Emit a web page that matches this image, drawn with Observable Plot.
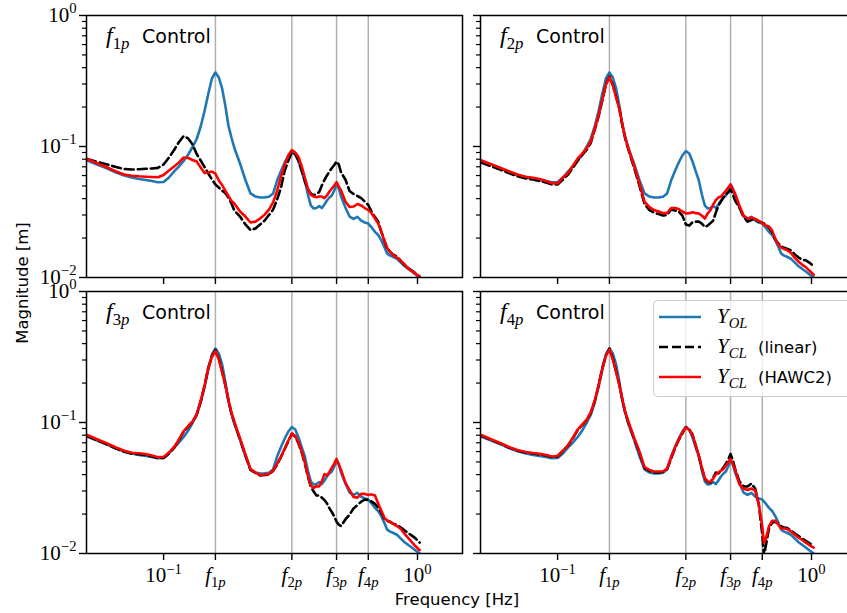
<!DOCTYPE html>
<html><head><meta charset="utf-8">
<script src="https://cdn.jsdelivr.net/npm/d3@7"></script>
<script src="https://cdn.jsdelivr.net/npm/@observablehq/plot@0.6"></script>
<style>
html,body{margin:0;padding:0;background:#fff;overflow:hidden;}
#fig{position:relative;width:847px;height:613px;overflow:hidden;background:#fff;}
.panel{position:absolute;}
.panel svg{overflow:visible;}
#overlay{position:absolute;left:0;top:0;pointer-events:none;}
</style></head>
<body><div id="fig"></div>
<script>
// ---------- data (frequency in Hz, magnitude in m) ----------
const freq = [
 0.05,0.055,0.06,0.065,0.07,0.075,0.08,0.085,0.09,0.095,
 0.1,0.105,0.11,0.115,0.12,0.125,0.13,0.135,0.14,0.145,
 0.15,0.155,0.16,0.165,0.17,0.175,0.18,0.185,0.19,0.2,
 0.21,0.22,0.23,0.24,0.25,0.26,0.27,0.28,0.29,0.3,
 0.31,0.32,0.33,0.34,0.35,0.36,0.37,0.38,0.39,0.4,
 0.41,0.42,0.43,0.44,0.45,0.46,0.47,0.48,0.49,0.5,
 0.52,0.54,0.56,0.58,0.6,0.62,0.64,0.65,0.66,0.68,
 0.7,0.72,0.74,0.76,0.78,0.8,0.83,0.86,0.89,0.92,
 0.95,0.98,1.02];

// open loop (same in all four panels)
const yOL = [
 0.0782,0.0725,0.0679,0.0633,0.0601,0.058,0.0565,0.0555,0.0545,0.0534,
 0.0536,0.058,0.0645,0.0704,0.0775,0.0869,0.0991,0.1141,0.1421,0.1866,
 0.2525,0.3304,0.3672,0.3363,0.2772,0.2056,0.1446,0.1171,0.0974,0.0742,
 0.0555,0.0438,0.0415,0.0408,0.0409,0.0413,0.0438,0.055,0.065,0.0755,
 0.0854,0.0924,0.0885,0.0768,0.0645,0.055,0.043,0.0355,0.0336,0.0339,
 0.0351,0.0339,0.0361,0.0387,0.0408,0.0423,0.0461,0.0513,0.0478,0.0415,
 0.0342,0.0292,0.028,0.029,0.0272,0.0263,0.0258,0.0249,0.0241,0.0223,
 0.0211,0.0193,0.0172,0.0152,0.0147,0.0144,0.0139,0.013,0.0122,0.0116,
 0.0111,0.0106,0.01];

// f1p control
const linF1 = [
 0.0803,0.0761,0.0729,0.0697,0.0673,0.0667,0.0671,0.0676,0.0679,0.0687,
 0.0729,0.0824,0.094,0.1083,0.1202,0.1151,0.1036,0.0876,0.0782,0.0697,
 0.0622,0.056,0.0513,0.0486,0.0461,0.0441,0.0408,0.0367,0.0325,0.0292,
 0.0254,0.023,0.0237,0.0254,0.0272,0.03,0.033,0.0394,0.0486,0.0656,
 0.0782,0.09,0.0869,0.0782,0.0656,0.0541,0.0474,0.0438,0.0423,0.0438,
 0.0449,0.0504,0.0555,0.0601,0.0644,0.0685,0.0722,0.0768,0.0729,0.0633,
 0.056,0.0457,0.0434,0.0419,0.0404,0.038,0.0358,0.0336,0.0316,0.0289,
 0.0267,0.0224,0.0192,0.0165,0.0157,0.015,0.0145,0.0134,0.0125,0.0118,
 0.0113,0.0108,0.0101];
const hawcF1 = [
 0.0803,0.0742,0.0691,0.0644,0.0611,0.0598,0.0592,0.0588,0.0585,0.0582,
 0.0606,0.0656,0.0704,0.0755,0.0824,0.0817,0.0789,0.0768,0.0691,0.0628,
 0.0633,0.0644,0.0622,0.055,0.0508,0.0461,0.0419,0.0384,0.0367,0.0319,
 0.0292,0.0263,0.0267,0.0282,0.0302,0.033,0.0374,0.0461,0.059,0.0729,
 0.0854,0.094,0.09,0.0832,0.0704,0.058,0.0478,0.0427,0.0415,0.041,
 0.0415,0.0415,0.0404,0.0423,0.0453,0.0478,0.0504,0.0534,0.0495,0.0461,
 0.038,0.0345,0.0348,0.0364,0.0355,0.0339,0.0327,0.0319,0.0308,0.0282,
 0.0258,0.0224,0.0192,0.0168,0.0157,0.0149,0.0142,0.0134,0.0126,0.0117,
 0.0112,0.0107,0.0102];

// f2p control
const linF2 = [
 0.0755,0.0704,0.0661,0.0622,0.059,0.057,0.056,0.0545,0.0531,0.0513,
 0.0513,0.056,0.0611,0.0691,0.0782,0.0861,0.094,0.1063,0.1337,0.1694,
 0.2245,0.2974,0.3423,0.2974,0.2408,0.195,0.1446,0.1131,0.0949,0.0691,
 0.0504,0.0364,0.0327,0.0313,0.0305,0.0297,0.03,0.033,0.0325,0.0319,
 0.0297,0.0254,0.0249,0.0265,0.0267,0.0267,0.0258,0.0243,0.0249,0.026,
 0.0272,0.0313,0.0355,0.038,0.0408,0.043,0.0445,0.047,0.043,0.0387,
 0.0342,0.0292,0.0267,0.0275,0.028,0.0267,0.0263,0.0258,0.0254,0.0241,
 0.0221,0.0195,0.0182,0.0172,0.0169,0.0166,0.0161,0.015,0.0142,0.0137,
 0.0135,0.013,0.0122];
const hawcF2 = [
 0.0782,0.0729,0.0683,0.0641,0.0608,0.0587,0.0577,0.0565,0.0545,0.0525,
 0.0522,0.058,0.0628,0.0716,0.081,0.0884,0.0965,0.1092,0.1372,0.1724,
 0.2285,0.2974,0.3393,0.2922,0.2366,0.195,0.1473,0.1151,0.0965,0.0716,
 0.0522,0.038,0.0345,0.0327,0.0319,0.031,0.031,0.0339,0.0339,0.0333,
 0.0319,0.0308,0.031,0.0315,0.031,0.0308,0.0297,0.0282,0.0308,0.0327,
 0.0361,0.039,0.0408,0.0415,0.0438,0.0461,0.0486,0.0513,0.0474,0.0438,
 0.0355,0.0297,0.0282,0.0287,0.028,0.027,0.026,0.0254,0.0249,0.0245,
 0.0228,0.0198,0.0178,0.0169,0.0165,0.0162,0.0154,0.0141,0.0132,0.0125,
 0.012,0.0113,0.0105];

// f3p control
const linF3 = [
 0.0789,0.0729,0.0679,0.0633,0.0598,0.0578,0.0572,0.0565,0.055,0.0534,
 0.0536,0.058,0.0639,0.0735,0.0854,0.0932,0.1009,0.1151,0.1446,0.1916,
 0.263,0.3191,0.3576,0.308,0.2451,0.1933,0.1485,0.1171,0.1,0.0742,
 0.056,0.0434,0.0412,0.0394,0.0397,0.0401,0.0427,0.0478,0.0545,0.0628,
 0.0722,0.0817,0.0782,0.0691,0.059,0.0486,0.0387,0.0325,0.0297,0.0277,
 0.0277,0.0267,0.0256,0.0241,0.0221,0.0207,0.0192,0.0175,0.0166,0.0162,
 0.0182,0.0198,0.0221,0.0234,0.0249,0.0258,0.0256,0.0254,0.0249,0.0239,
 0.0224,0.0206,0.0185,0.0178,0.0174,0.0169,0.0165,0.0158,0.015,0.0143,
 0.0137,0.0131,0.0121];
const hawcF3 = [
 0.0803,0.0742,0.0691,0.0644,0.0608,0.0588,0.0582,0.0575,0.056,0.0544,
 0.0545,0.059,0.065,0.0742,0.0861,0.094,0.1018,0.1151,0.1473,0.1916,
 0.2606,0.3162,0.3514,0.3027,0.2429,0.1933,0.1498,0.1192,0.1009,0.0755,
 0.057,0.0441,0.0415,0.0396,0.0401,0.0404,0.043,0.0484,0.055,0.0633,
 0.0729,0.0828,0.0789,0.0704,0.0601,0.0495,0.0394,0.033,0.0316,0.0327,
 0.0325,0.0355,0.0404,0.0394,0.0419,0.0453,0.0486,0.0527,0.0478,0.0434,
 0.0348,0.0305,0.027,0.0267,0.0285,0.0285,0.028,0.0282,0.0282,0.0277,
 0.0241,0.0213,0.0188,0.0178,0.0175,0.0169,0.0162,0.0154,0.0141,0.0131,
 0.0122,0.0114,0.0106];

// f4p control
const linF4 = [
 0.0796,0.0735,0.0685,0.0639,0.0608,0.059,0.058,0.057,0.056,0.0545,
 0.055,0.0606,0.0667,0.0761,0.0876,0.0957,0.1036,0.1181,0.1446,0.1916,
 0.2606,0.3247,0.3672,0.308,0.2451,0.195,0.1485,0.1171,0.1,0.0755,
 0.059,0.0449,0.0427,0.0415,0.0415,0.0419,0.0441,0.0531,0.0633,0.0735,
 0.0824,0.0924,0.0884,0.081,0.0667,0.0555,0.0449,0.0374,0.0351,0.0348,
 0.038,0.0415,0.0408,0.043,0.0453,0.0486,0.0522,0.0575,0.0513,0.0445,
 0.0355,0.0325,0.0325,0.0342,0.0313,0.0237,0.014,0.0095,0.0113,0.0155,
 0.0172,0.0175,0.0168,0.0161,0.0158,0.0157,0.015,0.0142,0.0136,0.013,
 0.0125,0.012,0.0115];
const hawcF4 = [
 0.0803,0.0742,0.0691,0.0644,0.0614,0.0596,0.0585,0.0577,0.0565,0.055,
 0.0555,0.0611,0.0673,0.0768,0.0884,0.0965,0.1045,0.1192,0.1473,0.1916,
 0.2584,0.3218,0.3608,0.3027,0.2429,0.1933,0.1498,0.1192,0.1018,0.0768,
 0.0601,0.0457,0.0434,0.0423,0.0423,0.0423,0.0445,0.0541,0.0644,0.0742,
 0.0839,0.0916,0.0876,0.081,0.0667,0.056,0.0453,0.0377,0.0355,0.0351,
 0.0374,0.0401,0.0415,0.043,0.0441,0.047,0.0495,0.0527,0.0482,0.0438,
 0.0339,0.0313,0.0305,0.0313,0.0302,0.0237,0.0161,0.0121,0.0128,0.0161,
 0.0178,0.0178,0.0166,0.0155,0.0155,0.0154,0.0147,0.0139,0.0132,0.0127,
 0.0121,0.0116,0.0111];

// axes / labels
const xDomain = [0.0497, 1.504];
const yDomain = [0.01, 1];
const fLines = [0.16, 0.32, 0.48, 0.64];
const xTicks = [0.1, 0.16, 0.32, 0.48, 0.64, 1];
const xTickLabels = ["10^{-1}", "f_{1p}", "f_{2p}", "f_{3p}", "f_{4p}", "10^{0}"];
const yTicks = [1, 0.1, 0.01];
const yTickLabels = ["10^{0}", "10^{-1}", "10^{-2}"];
const yMinor = [0.02,0.03,0.04,0.05,0.06,0.07,0.08,0.09,0.2,0.3,0.4,0.5,0.6,0.7,0.8,0.9];
const panelTitles = ["f_{1p}", "f_{2p}", "f_{3p}", "f_{4p}"];
const titleWord = "Control";
const seriesMath = ["Y_{OL}", "Y_{CL}", "Y_{CL}"];
const seriesText = ["", "(linear)", "(HAWC2)"];
const xLabel = "Frequency [Hz]";
const yLabel = "Magnitude [m]";

const lins = [linF1, linF2, linF3, linF4];
const hawcs = [hawcF1, hawcF2, hawcF3, hawcF4];
for (const a of [yOL, ...lins, ...hawcs])
  if (a.length !== freq.length) throw new Error("length mismatch " + a.length);

// ---------- styles ----------
const SERIF = "Liberation Serif", SANS = "DejaVu Sans";
const C_OL = "#1f77b4", C_LIN = "#000000", C_HAWC = "#ff0000";
const LW = 2.6, DASH = "9,4";

// mini TeX -> tspans
function tex(s, F, fam) {
  const out = [];
  const re = /([\^_])\{([^}]*)\}|([^\^_]+)/g;
  let m, shift = 0;
  while ((m = re.exec(s))) {
    let str, size, target;
    if (m[3] !== undefined) { str = m[3]; size = F; target = 0; }
    else { str = m[2]; size = F * 0.7; target = m[1] === "^" ? -0.42 * F : 0.24 * F; }
    const dy = target - shift; shift = target;
    [...str.replace(/-/g, "\u2212")].forEach((c, j) => {
      const it = /[A-Za-z]/.test(c) ? ' font-style="italic"' : '';
      const d = (j === 0 && dy) ? ` dy="${dy.toFixed(1)}"` : '';
      out.push(`<tspan font-family="${fam}" font-size="${size.toFixed(1)}"${it}${d}>${c}</tspan>`);
    });
  }
  return out.join("");
}

const fig = document.getElementById("fig");
const W = 472, ML = 86, MR = 10, MT = 15, IH = 262;
const DX = 394, DY = 276;
const TICKF = 21;
const xTickData = xTicks.map((v, i) => ({v, label: xTickLabels[i]}));
const yTickData = yTicks.map((v, i) => ({v, label: yTickLabels[i]}));

lins.forEach((lin, i) => {
  const col = i % 2, row = Math.floor(i / 2);
  const showY = col === 0, showX = row === 1;
  const hawc = hawcs[i];
  const data = freq.map((f, k) => ({f, ol: yOL[k], lin: lin[k], hawc: hawc[k]}));
  const MB = showX ? 60 : 12;
  const marks = [
    Plot.ruleX(fLines, {stroke: "#b0b0b0", strokeWidth: 1.5}),
    Plot.line(data, {x: "f", y: "ol", stroke: C_OL, strokeWidth: LW, clip: true}),
    Plot.line(data, {x: "f", y: "lin", stroke: C_LIN, strokeWidth: LW, strokeDasharray: DASH, clip: true}),
    Plot.line(data, {x: "f", y: "hawc", stroke: C_HAWC, strokeWidth: LW, clip: true}),
    Plot.axisY(yMinor, {tickSize: 4, tickFormat: () => "", label: null, strokeWidth: 1.2}),
    Plot.axisY(yTicks, {tickSize: 7, tickFormat: () => "", label: null, strokeWidth: 1.4}),
    Plot.axisX(xTicks, {tickSize: 7, tickFormat: () => "", label: null, strokeWidth: 1.4}),
    Plot.frame({stroke: "black", strokeWidth: 1.5})
  ];
  if (showY) marks.push(Plot.text(yTickData, {
    y: "v", text: "label", frameAnchor: "left", textAnchor: "end", dx: -10,
    fontSize: TICKF, fontFamily: SERIF, fill: "black"}));
  if (showX) marks.push(Plot.text(xTickData, {
    x: "v", text: "label", frameAnchor: "bottom", lineAnchor: "top", dy: 14,
    fontSize: TICKF, fontFamily: SERIF, fill: "black"}));
  const svg = Plot.plot({
    width: W, height: MT + IH + MB,
    marginLeft: ML, marginRight: MR, marginTop: MT, marginBottom: MB,
    x: {type: "log", domain: xDomain},
    y: {type: "log", domain: yDomain},
    style: {background: "transparent", fontFamily: SERIF, fontSize: TICKF + "px", color: "black", overflow: "visible"},
    marks
  });
  svg.querySelectorAll('g[aria-label="text"] text').forEach((t) => {
    const s = t.textContent;
    if (s) t.innerHTML = tex(s, TICKF, SERIF);
  });
  const div = document.createElement("div");
  div.className = "panel";
  div.style.left = (col * DX) + "px";
  div.style.top = (row * DY) + "px";
  div.style.width = W + "px";
  div.appendChild(svg);
  fig.appendChild(div);
});

// ---------- overlay: titles, axis labels, legend ----------
let o = `<svg id="overlay" width="847" height="613" xmlns="http://www.w3.org/2000/svg">`;
panelTitles.forEach((t, i) => {
  const x0 = (i % 2) * DX, y0 = Math.floor(i / 2) * DY;
  o += `<text x="${106 + x0}" y="${43 + y0}">${tex(t, 24, SERIF)}<tspan x="${142 + x0}" y="${43 + y0}" font-family="${SANS}" font-size="19">${titleWord}</tspan></text>`;
});
o += `<text transform="translate(28,283) rotate(-90)" text-anchor="middle" font-family="${SANS}" font-size="16.5">${yLabel}</text>`;
o += `<text x="457" y="605" text-anchor="middle" font-family="${SANS}" font-size="16.5">${xLabel}</text>`;
// legend
o += `<rect x="653.5" y="300.5" width="230" height="96" rx="4" fill="white" fill-opacity="0.8" stroke="#cccccc" stroke-width="1"/>`;
const legStroke = [C_OL, C_LIN, C_HAWC], legDash = ["none", DASH, "none"];
seriesMath.forEach((m, k) => {
  const cy = 317 + k * 30;
  o += `<line x1="659" x2="701" y1="${cy}" y2="${cy}" stroke="${legStroke[k]}" stroke-width="${LW}" stroke-dasharray="${legDash[k]}"/>`;
  o += `<text x="717" y="${cy + 6}">${tex(m, 21, SERIF)}` +
       (seriesText[k] ? `<tspan x="758" y="${cy + 6}" font-family="${SANS}" font-size="16.5">${seriesText[k]}</tspan>` : "") + `</text>`;
});
o += `</svg>`;
fig.insertAdjacentHTML("beforeend", o);
</script>
</body></html>
